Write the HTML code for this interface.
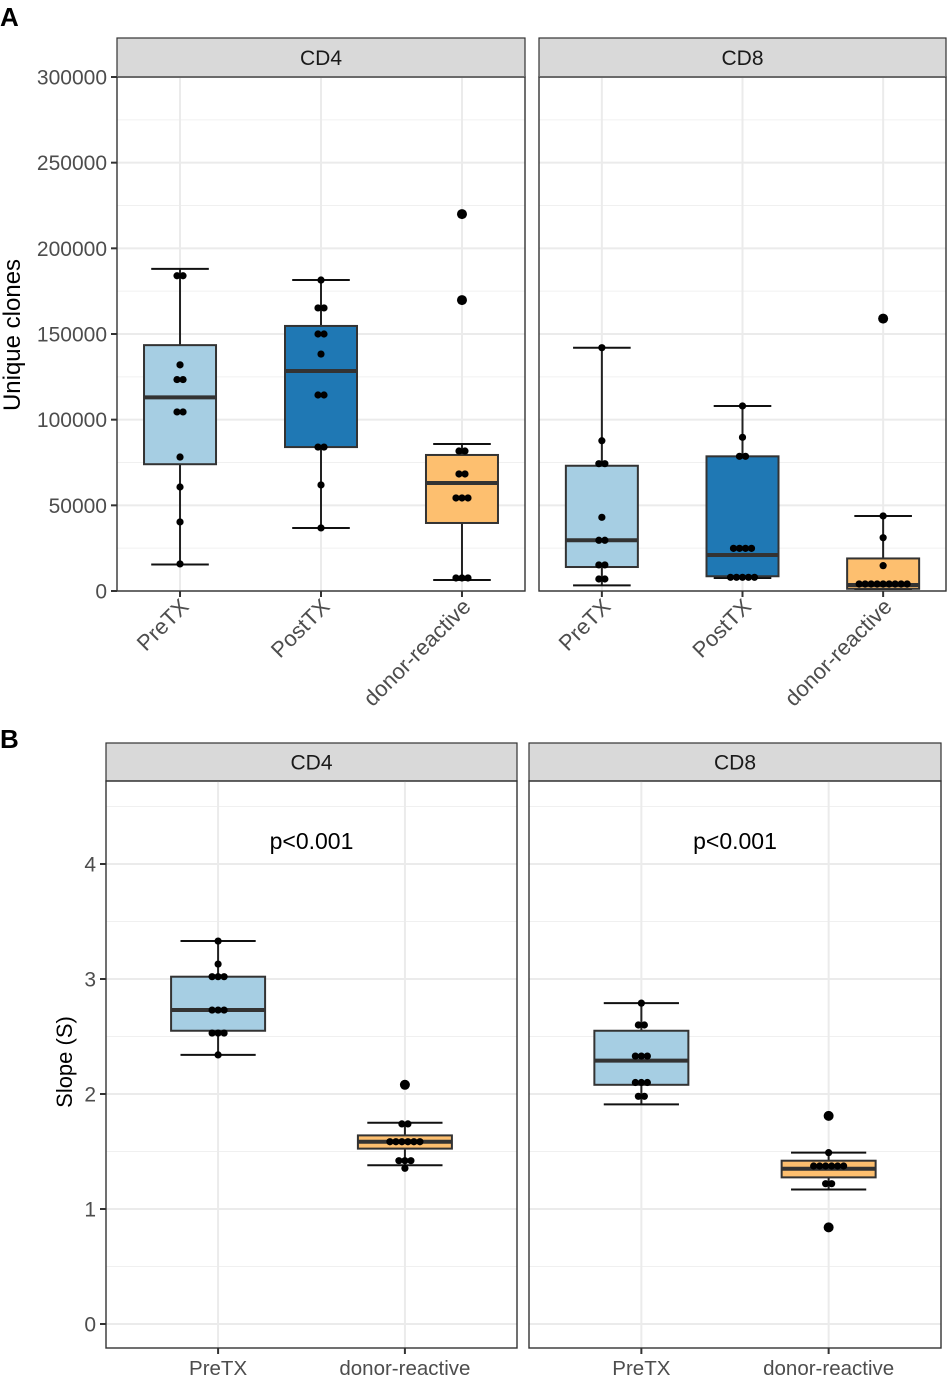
<!DOCTYPE html>
<html><head><meta charset="utf-8">
<style>
html,body{margin:0;padding:0;background:#fff}
svg{display:block;font-family:"Liberation Sans",Arial,sans-serif}
</style></head>
<body>
<svg id="chart" width="949" height="1379" viewBox="0 0 949 1379" xmlns="http://www.w3.org/2000/svg">
<text x="0" y="26" font-size="26" font-weight="bold" fill="#000">A</text>
<text x="0" y="748" font-size="26" font-weight="bold" fill="#000">B</text>
<text transform="translate(20,335) rotate(-90)" text-anchor="middle" font-size="24" fill="#000">Unique clones</text>
<text transform="translate(72,1062) rotate(-90)" text-anchor="middle" font-size="22" fill="#000">Slope (S)</text>
</svg>
<script>
// ---------- Panel A data ----------
const catsA = ["PreTX","PostTX","donor-reactive"];
const ticksA = [0,50000,100000,150000,200000,250000,300000];
const ticksALabels = ["0","50000","100000","150000","200000","250000","300000"];
const facetsA = ["CD4","CD8"];
// box stats: [low whisker, q1, median, q3, high whisker]
const cd4StatsA = [[15500,74000,113000,143500,188000],[36800,84000,128400,154700,181500],[6400,39700,63000,79400,85800]];
const cd8StatsA = [[3300,14000,29600,73100,142000],[7600,8600,21000,78600,108000],[1200,1300,3500,19000,43800]];
const cd4PointsA = [
  [184000,184000,132000,123400,123400,104500,104500,78200,60700,40300,15800],
  [181500,165200,165200,150000,150000,138300,114400,114400,84000,84000,61900,36800],
  [220000,169800,81700,81700,68300,68300,54300,54300,54300,7600,7600,7600]
];
const cd8PointsA = [
  [142000,87700,74300,74300,43000,29600,29600,15200,15200,7000,7000],
  [108000,89700,78600,78600,24900,24900,24900,24900,8000,8000,8000,8000,8000],
  [159000,43800,31100,14800,4100,4100,4100,4100,4100,4100,4100,4100,4100]
];
const outliersA = [[[],[],[220000,169800]],[[],[],[159000]]];

// ---------- Panel B data ----------
const catsB = ["PreTX","donor-reactive"];
const ticksB = [0,1,2,3,4];
const ticksBLabels = ["0","1","2","3","4"];
const facetsB = ["CD4","CD8"];
const pLabels = ["p<0.001","p<0.001"];
const cd4StatsB = [[2.34,2.55,2.73,3.02,3.33],[1.38,1.525,1.585,1.64,1.75]];
const cd8StatsB = [[1.91,2.08,2.29,2.55,2.79],[1.17,1.275,1.35,1.42,1.49]];
const cd4PointsB = [
  [3.33,3.13,3.02,3.02,3.02,2.73,2.73,2.73,2.53,2.53,2.53,2.34],
  [2.08,1.74,1.74,1.585,1.585,1.585,1.585,1.585,1.585,1.42,1.42,1.42,1.354]
];
const cd8PointsB = [
  [2.79,2.60,2.60,2.33,2.33,2.33,2.10,2.10,2.10,1.98,1.98],
  [1.81,1.49,1.374,1.374,1.374,1.374,1.374,1.374,1.22,1.22,0.84]
];
const outliersB = [[[],[2.08]],[[],[1.81,0.84]]];

const fillsA = ["#a6cee3","#1f78b4","#fdbf6f"];
const fillsB = ["#a6cee3","#fdbf6f"];

const svg = document.getElementById('chart');
const NS = "http://www.w3.org/2000/svg";
function mk(tag, attrs, parent){
  const e = document.createElementNS(NS, tag);
  for (const k in attrs) e.setAttribute(k, attrs[k]);
  (parent||svg).appendChild(e);
  return e;
}

function drawPanel(cfg){
  const {x0,x1,stripTop,top,bottom,zeroPx,pxPerUnit,cats,stats,points,outliers,fills,facet,boxW,ticks,tickLabels,showTicks,rotLabels,minorTicks,pLabel,pad,prefix} = cfg;
  const yS = v => zeroPx - v * pxPerUnit;
  const n = cats.length;
  const step = (x1 - x0) / (n - 1 + 2*pad);
  const xS = i => x0 + step * (pad + i);
  const g = mk('g', {});
  
  
  const strip = mk('rect', {x:x0, y:stripTop, width:x1-x0, height:top-stripTop, fill:'#d9d9d9', stroke:'#333', 'stroke-width':1.2}, g);
  
  
  const st = mk('text', {x:(x0+x1)/2, y:(stripTop+top)/2+7.5, 'text-anchor':'middle', 'font-size':21, fill:'#1a1a1a'}, g);
  st.textContent = facet;
  
  
  minorTicks.forEach(v => {
    const l = mk('line', {x1:x0, x2:x1, y1:yS(v), y2:yS(v), stroke:'#f0f0f0', 'stroke-width':1}, g);
    
    
  });
  ticks.forEach(v => {
    const l = mk('line', {x1:x0, x2:x1, y1:yS(v), y2:yS(v), stroke:'#ebebeb', 'stroke-width':2}, g);
    
    
  });
  cats.forEach((c,i) => {
    const l = mk('line', {x1:xS(i), x2:xS(i), y1:top, y2:bottom, stroke:'#ebebeb', 'stroke-width':2}, g);
    
    
  });
  cats.forEach((c,i) => {
    const [lo,q1,med,q3,hi] = stats[i];
    const cx = xS(i);
    const bg = mk('g', {}, g);
    
    
    const cap = boxW*0.4;
    mk('line', {x1:cx, x2:cx, y1:yS(hi), y2:yS(q3), stroke:'#222', 'stroke-width':2}, bg);
    mk('line', {x1:cx, x2:cx, y1:yS(q1), y2:yS(lo), stroke:'#222', 'stroke-width':2}, bg);
    mk('line', {x1:cx-cap, x2:cx+cap, y1:yS(hi), y2:yS(hi), stroke:'#111', 'stroke-width':2}, bg);
    mk('line', {x1:cx-cap, x2:cx+cap, y1:yS(lo), y2:yS(lo), stroke:'#111', 'stroke-width':2}, bg);
    mk('rect', {x:cx-boxW/2, y:yS(q3), width:boxW, height:Math.max(1,yS(q1)-yS(q3)), fill:fills[i], stroke:'#333', 'stroke-width':2}, bg);
    mk('line', {x1:cx-boxW/2, x2:cx+boxW/2, y1:yS(med), y2:yS(med), stroke:'#333', 'stroke-width':4}, bg);
    const groups = {};
    points[i].forEach(v => { groups[v] = (groups[v]||0) + 1; });
    Object.keys(groups).forEach(k => {
      const v = +k, cnt = groups[k];
      const big = outliers[i].indexOf(v) >= 0;
      for (let j = 0; j < cnt; j++) {
        const dx = (j - (cnt-1)/2) * 6;
        const p = mk('circle', {cx:cx+dx, cy:yS(v), r: big ? 5 : 3.6, fill:'#000'}, bg);
        
        
      }
    });
  });
  const br = mk('rect', {x:x0, y:top, width:x1-x0, height:bottom-top, fill:'none', stroke:'#333', 'stroke-width':1.4}, g);
  
  
  cats.forEach((c,i) => {
    const cx = xS(i);
    mk('line', {x1:cx, x2:cx, y1:bottom, y2:bottom+6, stroke:'#333', 'stroke-width':2}, g);
    let t;
    if (rotLabels) {
      t = mk('text', {transform:`translate(${cx+10},${bottom+17}) rotate(-45)`, 'text-anchor':'end', 'font-size':22, fill:'#4d4d4d'}, g);
    } else {
      t = mk('text', {x:cx, y:bottom+27, 'text-anchor':'middle', 'font-size':20.5, fill:'#4d4d4d'}, g);
    }
    t.textContent = c;
    
    
  });
  if (showTicks) {
    ticks.forEach((v,k) => {
      mk('line', {x1:x0-6, x2:x0, y1:yS(v), y2:yS(v), stroke:'#333', 'stroke-width':2}, g);
      const t = mk('text', {x:x0-10, y:yS(v)+7.5, 'text-anchor':'end', 'font-size':21, fill:'#4d4d4d'}, g);
      t.textContent = tickLabels[k];
      
      
    });
  }
  if (pLabel) {
    const t = mk('text', {x:(x0+x1)/2, y:yS(4.2)+8, 'text-anchor':'middle', 'font-size':23, fill:'#000'}, g);
    t.textContent = pLabel;
    
    
  }
}

const minorA = [25000,75000,125000,175000,225000,275000];
const minorB = [0.5,1.5,2.5,3.5,4.5];
const statsA = [cd4StatsA, cd8StatsA];
const pointsA = [cd4PointsA, cd8PointsA];
const statsB = [cd4StatsB, cd8StatsB];
const pointsB = [cd4PointsB, cd8PointsB];
const xA = [[117,525],[539,946]];
const xB = [[106,517],[529,941]];

facetsA.forEach((f,fi) => drawPanel({
  x0:xA[fi][0], x1:xA[fi][1], stripTop:38, top:77, bottom:591, zeroPx:591, pxPerUnit:514/300000,
  cats:catsA, stats:statsA[fi], points:pointsA[fi], outliers:outliersA[fi], fills:fillsA,
  facet:f, boxW:72, ticks:ticksA, tickLabels:ticksALabels, showTicks: fi===0, rotLabels:true,
  minorTicks:minorA, pLabel:null, pad:0.447, prefix:'panel-a'
}));
facetsB.forEach((f,fi) => drawPanel({
  x0:xB[fi][0], x1:xB[fi][1], stripTop:743, top:781, bottom:1348, zeroPx:1324, pxPerUnit:115,
  cats:catsB, stats:statsB[fi], points:pointsB[fi], outliers:outliersB[fi], fills:fillsB,
  facet:f, boxW:94, ticks:ticksB, tickLabels:ticksBLabels, showTicks: fi===0, rotLabels:false,
  minorTicks:minorB, pLabel:pLabels[fi], pad:0.6, prefix:'panel-b'
}));
</script>
</body></html>
